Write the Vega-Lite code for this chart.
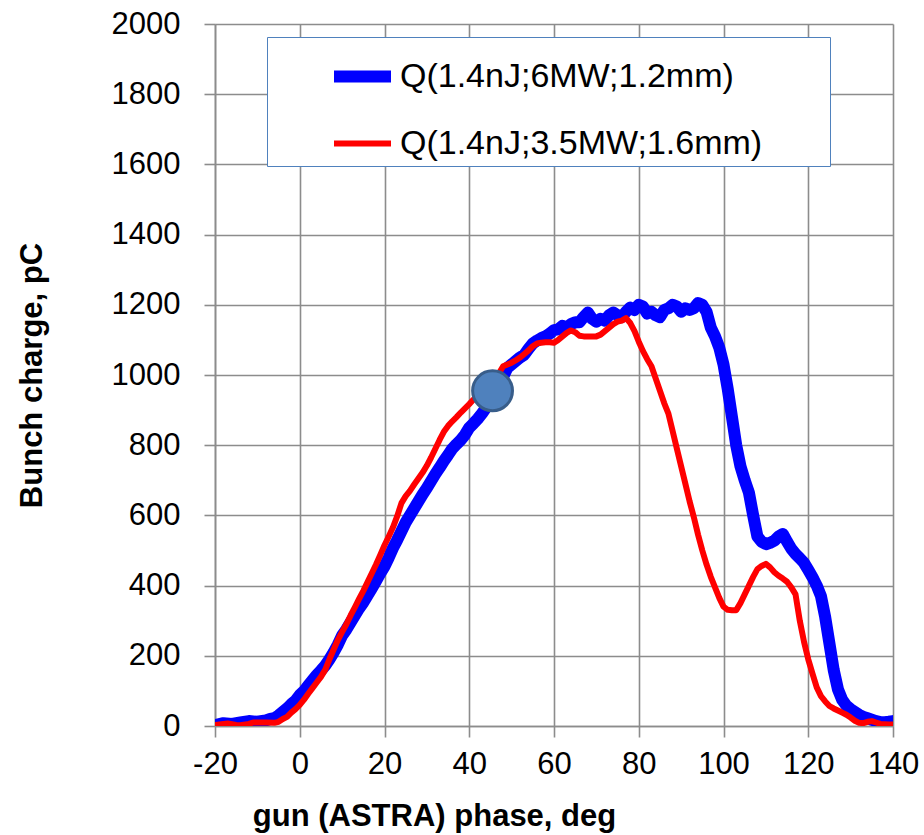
{
  "$schema": "https://vega.github.io/schema/vega-lite/v6.json",
  "autosize": "none",
  "width": 678,
  "height": 702,
  "padding": {"left": 215, "top": 24, "right": 31, "bottom": 109},
  "background": "white",
  "config": {
    "view": {"stroke": null},
    "axis": {
      "gridColor": "#8c8c8c",
      "gridWidth": 1.6,
      "domainColor": "#8c8c8c",
      "domainWidth": 1.6,
      "tickColor": "#8c8c8c",
      "tickWidth": 1.6,
      "tickSize": 11,
      "labelFont": "Liberation Sans",
      "labelFontSize": 31,
      "labelColor": "black",
      "labelFlush": false,
      "labelOverlap": false,
      "labelExpr": "'' + datum.value",
      "titleFont": "Liberation Sans",
      "titleFontSize": 31,
      "titleFontWeight": "bold",
      "titleColor": "black"
    }
  },
  "datasets": {
    "curves": [
      {"phase": -20, "charge": 2, "series": "Q(1.4nJ;6MW;1.2mm)"},
      {"phase": -18, "charge": 8, "series": "Q(1.4nJ;6MW;1.2mm)"},
      {"phase": -16, "charge": 6, "series": "Q(1.4nJ;6MW;1.2mm)"},
      {"phase": -14, "charge": 10, "series": "Q(1.4nJ;6MW;1.2mm)"},
      {"phase": -12, "charge": 14, "series": "Q(1.4nJ;6MW;1.2mm)"},
      {"phase": -10, "charge": 12, "series": "Q(1.4nJ;6MW;1.2mm)"},
      {"phase": -8, "charge": 16, "series": "Q(1.4nJ;6MW;1.2mm)"},
      {"phase": -7, "charge": 20, "series": "Q(1.4nJ;6MW;1.2mm)"},
      {"phase": -6, "charge": 22, "series": "Q(1.4nJ;6MW;1.2mm)"},
      {"phase": -5, "charge": 30, "series": "Q(1.4nJ;6MW;1.2mm)"},
      {"phase": -4, "charge": 40, "series": "Q(1.4nJ;6MW;1.2mm)"},
      {"phase": -3, "charge": 50, "series": "Q(1.4nJ;6MW;1.2mm)"},
      {"phase": -2, "charge": 62, "series": "Q(1.4nJ;6MW;1.2mm)"},
      {"phase": -1, "charge": 72, "series": "Q(1.4nJ;6MW;1.2mm)"},
      {"phase": 0, "charge": 88, "series": "Q(1.4nJ;6MW;1.2mm)"},
      {"phase": 1, "charge": 100, "series": "Q(1.4nJ;6MW;1.2mm)"},
      {"phase": 2, "charge": 115, "series": "Q(1.4nJ;6MW;1.2mm)"},
      {"phase": 3, "charge": 130, "series": "Q(1.4nJ;6MW;1.2mm)"},
      {"phase": 4, "charge": 145, "series": "Q(1.4nJ;6MW;1.2mm)"},
      {"phase": 5, "charge": 158, "series": "Q(1.4nJ;6MW;1.2mm)"},
      {"phase": 6, "charge": 172, "series": "Q(1.4nJ;6MW;1.2mm)"},
      {"phase": 7, "charge": 190, "series": "Q(1.4nJ;6MW;1.2mm)"},
      {"phase": 8, "charge": 210, "series": "Q(1.4nJ;6MW;1.2mm)"},
      {"phase": 9, "charge": 232, "series": "Q(1.4nJ;6MW;1.2mm)"},
      {"phase": 10, "charge": 258, "series": "Q(1.4nJ;6MW;1.2mm)"},
      {"phase": 11, "charge": 275, "series": "Q(1.4nJ;6MW;1.2mm)"},
      {"phase": 12, "charge": 295, "series": "Q(1.4nJ;6MW;1.2mm)"},
      {"phase": 13, "charge": 315, "series": "Q(1.4nJ;6MW;1.2mm)"},
      {"phase": 14, "charge": 335, "series": "Q(1.4nJ;6MW;1.2mm)"},
      {"phase": 15, "charge": 352, "series": "Q(1.4nJ;6MW;1.2mm)"},
      {"phase": 16, "charge": 372, "series": "Q(1.4nJ;6MW;1.2mm)"},
      {"phase": 17, "charge": 392, "series": "Q(1.4nJ;6MW;1.2mm)"},
      {"phase": 18, "charge": 413, "series": "Q(1.4nJ;6MW;1.2mm)"},
      {"phase": 19, "charge": 435, "series": "Q(1.4nJ;6MW;1.2mm)"},
      {"phase": 20, "charge": 455, "series": "Q(1.4nJ;6MW;1.2mm)"},
      {"phase": 21, "charge": 480, "series": "Q(1.4nJ;6MW;1.2mm)"},
      {"phase": 22, "charge": 507, "series": "Q(1.4nJ;6MW;1.2mm)"},
      {"phase": 23, "charge": 530, "series": "Q(1.4nJ;6MW;1.2mm)"},
      {"phase": 24, "charge": 555, "series": "Q(1.4nJ;6MW;1.2mm)"},
      {"phase": 25, "charge": 580, "series": "Q(1.4nJ;6MW;1.2mm)"},
      {"phase": 26, "charge": 600, "series": "Q(1.4nJ;6MW;1.2mm)"},
      {"phase": 27, "charge": 620, "series": "Q(1.4nJ;6MW;1.2mm)"},
      {"phase": 28, "charge": 640, "series": "Q(1.4nJ;6MW;1.2mm)"},
      {"phase": 29, "charge": 660, "series": "Q(1.4nJ;6MW;1.2mm)"},
      {"phase": 30, "charge": 678, "series": "Q(1.4nJ;6MW;1.2mm)"},
      {"phase": 31, "charge": 698, "series": "Q(1.4nJ;6MW;1.2mm)"},
      {"phase": 32, "charge": 718, "series": "Q(1.4nJ;6MW;1.2mm)"},
      {"phase": 33, "charge": 736, "series": "Q(1.4nJ;6MW;1.2mm)"},
      {"phase": 34, "charge": 755, "series": "Q(1.4nJ;6MW;1.2mm)"},
      {"phase": 35, "charge": 772, "series": "Q(1.4nJ;6MW;1.2mm)"},
      {"phase": 36, "charge": 790, "series": "Q(1.4nJ;6MW;1.2mm)"},
      {"phase": 37, "charge": 803, "series": "Q(1.4nJ;6MW;1.2mm)"},
      {"phase": 38, "charge": 815, "series": "Q(1.4nJ;6MW;1.2mm)"},
      {"phase": 39, "charge": 830, "series": "Q(1.4nJ;6MW;1.2mm)"},
      {"phase": 40, "charge": 850, "series": "Q(1.4nJ;6MW;1.2mm)"},
      {"phase": 41, "charge": 862, "series": "Q(1.4nJ;6MW;1.2mm)"},
      {"phase": 42, "charge": 875, "series": "Q(1.4nJ;6MW;1.2mm)"},
      {"phase": 43, "charge": 890, "series": "Q(1.4nJ;6MW;1.2mm)"},
      {"phase": 44, "charge": 908, "series": "Q(1.4nJ;6MW;1.2mm)"},
      {"phase": 45, "charge": 928, "series": "Q(1.4nJ;6MW;1.2mm)"},
      {"phase": 46, "charge": 948, "series": "Q(1.4nJ;6MW;1.2mm)"},
      {"phase": 47, "charge": 970, "series": "Q(1.4nJ;6MW;1.2mm)"},
      {"phase": 48, "charge": 995, "series": "Q(1.4nJ;6MW;1.2mm)"},
      {"phase": 49, "charge": 1020, "series": "Q(1.4nJ;6MW;1.2mm)"},
      {"phase": 50, "charge": 1030, "series": "Q(1.4nJ;6MW;1.2mm)"},
      {"phase": 51, "charge": 1040, "series": "Q(1.4nJ;6MW;1.2mm)"},
      {"phase": 52, "charge": 1050, "series": "Q(1.4nJ;6MW;1.2mm)"},
      {"phase": 53, "charge": 1058, "series": "Q(1.4nJ;6MW;1.2mm)"},
      {"phase": 54, "charge": 1075, "series": "Q(1.4nJ;6MW;1.2mm)"},
      {"phase": 55, "charge": 1090, "series": "Q(1.4nJ;6MW;1.2mm)"},
      {"phase": 56, "charge": 1098, "series": "Q(1.4nJ;6MW;1.2mm)"},
      {"phase": 57, "charge": 1105, "series": "Q(1.4nJ;6MW;1.2mm)"},
      {"phase": 58, "charge": 1110, "series": "Q(1.4nJ;6MW;1.2mm)"},
      {"phase": 59, "charge": 1118, "series": "Q(1.4nJ;6MW;1.2mm)"},
      {"phase": 60, "charge": 1128, "series": "Q(1.4nJ;6MW;1.2mm)"},
      {"phase": 61, "charge": 1130, "series": "Q(1.4nJ;6MW;1.2mm)"},
      {"phase": 62, "charge": 1140, "series": "Q(1.4nJ;6MW;1.2mm)"},
      {"phase": 63, "charge": 1135, "series": "Q(1.4nJ;6MW;1.2mm)"},
      {"phase": 64, "charge": 1145, "series": "Q(1.4nJ;6MW;1.2mm)"},
      {"phase": 65, "charge": 1150, "series": "Q(1.4nJ;6MW;1.2mm)"},
      {"phase": 66, "charge": 1150, "series": "Q(1.4nJ;6MW;1.2mm)"},
      {"phase": 67, "charge": 1165, "series": "Q(1.4nJ;6MW;1.2mm)"},
      {"phase": 68, "charge": 1178, "series": "Q(1.4nJ;6MW;1.2mm)"},
      {"phase": 69, "charge": 1160, "series": "Q(1.4nJ;6MW;1.2mm)"},
      {"phase": 70, "charge": 1152, "series": "Q(1.4nJ;6MW;1.2mm)"},
      {"phase": 71, "charge": 1160, "series": "Q(1.4nJ;6MW;1.2mm)"},
      {"phase": 72, "charge": 1155, "series": "Q(1.4nJ;6MW;1.2mm)"},
      {"phase": 73, "charge": 1170, "series": "Q(1.4nJ;6MW;1.2mm)"},
      {"phase": 74, "charge": 1178, "series": "Q(1.4nJ;6MW;1.2mm)"},
      {"phase": 75, "charge": 1170, "series": "Q(1.4nJ;6MW;1.2mm)"},
      {"phase": 76, "charge": 1165, "series": "Q(1.4nJ;6MW;1.2mm)"},
      {"phase": 77, "charge": 1180, "series": "Q(1.4nJ;6MW;1.2mm)"},
      {"phase": 78, "charge": 1192, "series": "Q(1.4nJ;6MW;1.2mm)"},
      {"phase": 79, "charge": 1185, "series": "Q(1.4nJ;6MW;1.2mm)"},
      {"phase": 80, "charge": 1200, "series": "Q(1.4nJ;6MW;1.2mm)"},
      {"phase": 81, "charge": 1195, "series": "Q(1.4nJ;6MW;1.2mm)"},
      {"phase": 82, "charge": 1175, "series": "Q(1.4nJ;6MW;1.2mm)"},
      {"phase": 83, "charge": 1180, "series": "Q(1.4nJ;6MW;1.2mm)"},
      {"phase": 84, "charge": 1170, "series": "Q(1.4nJ;6MW;1.2mm)"},
      {"phase": 85, "charge": 1165, "series": "Q(1.4nJ;6MW;1.2mm)"},
      {"phase": 86, "charge": 1185, "series": "Q(1.4nJ;6MW;1.2mm)"},
      {"phase": 87, "charge": 1190, "series": "Q(1.4nJ;6MW;1.2mm)"},
      {"phase": 88, "charge": 1200, "series": "Q(1.4nJ;6MW;1.2mm)"},
      {"phase": 89, "charge": 1195, "series": "Q(1.4nJ;6MW;1.2mm)"},
      {"phase": 90, "charge": 1180, "series": "Q(1.4nJ;6MW;1.2mm)"},
      {"phase": 91, "charge": 1190, "series": "Q(1.4nJ;6MW;1.2mm)"},
      {"phase": 92, "charge": 1185, "series": "Q(1.4nJ;6MW;1.2mm)"},
      {"phase": 93, "charge": 1190, "series": "Q(1.4nJ;6MW;1.2mm)"},
      {"phase": 94, "charge": 1205, "series": "Q(1.4nJ;6MW;1.2mm)"},
      {"phase": 95, "charge": 1200, "series": "Q(1.4nJ;6MW;1.2mm)"},
      {"phase": 96, "charge": 1180, "series": "Q(1.4nJ;6MW;1.2mm)"},
      {"phase": 97, "charge": 1135, "series": "Q(1.4nJ;6MW;1.2mm)"},
      {"phase": 98, "charge": 1110, "series": "Q(1.4nJ;6MW;1.2mm)"},
      {"phase": 99, "charge": 1078, "series": "Q(1.4nJ;6MW;1.2mm)"},
      {"phase": 100, "charge": 1030, "series": "Q(1.4nJ;6MW;1.2mm)"},
      {"phase": 101, "charge": 960, "series": "Q(1.4nJ;6MW;1.2mm)"},
      {"phase": 102, "charge": 880, "series": "Q(1.4nJ;6MW;1.2mm)"},
      {"phase": 103, "charge": 800, "series": "Q(1.4nJ;6MW;1.2mm)"},
      {"phase": 104, "charge": 740, "series": "Q(1.4nJ;6MW;1.2mm)"},
      {"phase": 105, "charge": 700, "series": "Q(1.4nJ;6MW;1.2mm)"},
      {"phase": 106, "charge": 665, "series": "Q(1.4nJ;6MW;1.2mm)"},
      {"phase": 107, "charge": 600, "series": "Q(1.4nJ;6MW;1.2mm)"},
      {"phase": 108, "charge": 540, "series": "Q(1.4nJ;6MW;1.2mm)"},
      {"phase": 109, "charge": 525, "series": "Q(1.4nJ;6MW;1.2mm)"},
      {"phase": 110, "charge": 518, "series": "Q(1.4nJ;6MW;1.2mm)"},
      {"phase": 111, "charge": 522, "series": "Q(1.4nJ;6MW;1.2mm)"},
      {"phase": 112, "charge": 528, "series": "Q(1.4nJ;6MW;1.2mm)"},
      {"phase": 113, "charge": 540, "series": "Q(1.4nJ;6MW;1.2mm)"},
      {"phase": 114, "charge": 547, "series": "Q(1.4nJ;6MW;1.2mm)"},
      {"phase": 115, "charge": 525, "series": "Q(1.4nJ;6MW;1.2mm)"},
      {"phase": 116, "charge": 505, "series": "Q(1.4nJ;6MW;1.2mm)"},
      {"phase": 117, "charge": 490, "series": "Q(1.4nJ;6MW;1.2mm)"},
      {"phase": 118, "charge": 478, "series": "Q(1.4nJ;6MW;1.2mm)"},
      {"phase": 119, "charge": 465, "series": "Q(1.4nJ;6MW;1.2mm)"},
      {"phase": 120, "charge": 445, "series": "Q(1.4nJ;6MW;1.2mm)"},
      {"phase": 121, "charge": 424, "series": "Q(1.4nJ;6MW;1.2mm)"},
      {"phase": 122, "charge": 400, "series": "Q(1.4nJ;6MW;1.2mm)"},
      {"phase": 123, "charge": 370, "series": "Q(1.4nJ;6MW;1.2mm)"},
      {"phase": 124, "charge": 310, "series": "Q(1.4nJ;6MW;1.2mm)"},
      {"phase": 125, "charge": 235, "series": "Q(1.4nJ;6MW;1.2mm)"},
      {"phase": 126, "charge": 160, "series": "Q(1.4nJ;6MW;1.2mm)"},
      {"phase": 127, "charge": 105, "series": "Q(1.4nJ;6MW;1.2mm)"},
      {"phase": 128, "charge": 75, "series": "Q(1.4nJ;6MW;1.2mm)"},
      {"phase": 129, "charge": 58, "series": "Q(1.4nJ;6MW;1.2mm)"},
      {"phase": 130, "charge": 48, "series": "Q(1.4nJ;6MW;1.2mm)"},
      {"phase": 131, "charge": 40, "series": "Q(1.4nJ;6MW;1.2mm)"},
      {"phase": 132, "charge": 32, "series": "Q(1.4nJ;6MW;1.2mm)"},
      {"phase": 133, "charge": 26, "series": "Q(1.4nJ;6MW;1.2mm)"},
      {"phase": 134, "charge": 22, "series": "Q(1.4nJ;6MW;1.2mm)"},
      {"phase": 135, "charge": 18, "series": "Q(1.4nJ;6MW;1.2mm)"},
      {"phase": 136, "charge": 14, "series": "Q(1.4nJ;6MW;1.2mm)"},
      {"phase": 137, "charge": 11, "series": "Q(1.4nJ;6MW;1.2mm)"},
      {"phase": 138, "charge": 11, "series": "Q(1.4nJ;6MW;1.2mm)"},
      {"phase": 139, "charge": 12, "series": "Q(1.4nJ;6MW;1.2mm)"},
      {"phase": 140, "charge": 14, "series": "Q(1.4nJ;6MW;1.2mm)"},

      {"phase": -20, "charge": 3, "series": "Q(1.4nJ;3.5MW;1.6mm)"},
      {"phase": -18, "charge": 6, "series": "Q(1.4nJ;3.5MW;1.6mm)"},
      {"phase": -17, "charge": 7, "series": "Q(1.4nJ;3.5MW;1.6mm)"},
      {"phase": -15, "charge": 3, "series": "Q(1.4nJ;3.5MW;1.6mm)"},
      {"phase": -14, "charge": 2, "series": "Q(1.4nJ;3.5MW;1.6mm)"},
      {"phase": -12, "charge": 6, "series": "Q(1.4nJ;3.5MW;1.6mm)"},
      {"phase": -11, "charge": 10, "series": "Q(1.4nJ;3.5MW;1.6mm)"},
      {"phase": -8, "charge": 10, "series": "Q(1.4nJ;3.5MW;1.6mm)"},
      {"phase": -6, "charge": 9, "series": "Q(1.4nJ;3.5MW;1.6mm)"},
      {"phase": -5, "charge": 12, "series": "Q(1.4nJ;3.5MW;1.6mm)"},
      {"phase": -4, "charge": 20, "series": "Q(1.4nJ;3.5MW;1.6mm)"},
      {"phase": -3, "charge": 26, "series": "Q(1.4nJ;3.5MW;1.6mm)"},
      {"phase": -2, "charge": 38, "series": "Q(1.4nJ;3.5MW;1.6mm)"},
      {"phase": -1, "charge": 48, "series": "Q(1.4nJ;3.5MW;1.6mm)"},
      {"phase": 0, "charge": 60, "series": "Q(1.4nJ;3.5MW;1.6mm)"},
      {"phase": 1, "charge": 75, "series": "Q(1.4nJ;3.5MW;1.6mm)"},
      {"phase": 2, "charge": 92, "series": "Q(1.4nJ;3.5MW;1.6mm)"},
      {"phase": 3, "charge": 108, "series": "Q(1.4nJ;3.5MW;1.6mm)"},
      {"phase": 4, "charge": 124, "series": "Q(1.4nJ;3.5MW;1.6mm)"},
      {"phase": 5, "charge": 140, "series": "Q(1.4nJ;3.5MW;1.6mm)"},
      {"phase": 6, "charge": 160, "series": "Q(1.4nJ;3.5MW;1.6mm)"},
      {"phase": 7, "charge": 190, "series": "Q(1.4nJ;3.5MW;1.6mm)"},
      {"phase": 8, "charge": 218, "series": "Q(1.4nJ;3.5MW;1.6mm)"},
      {"phase": 9, "charge": 245, "series": "Q(1.4nJ;3.5MW;1.6mm)"},
      {"phase": 10, "charge": 268, "series": "Q(1.4nJ;3.5MW;1.6mm)"},
      {"phase": 11, "charge": 290, "series": "Q(1.4nJ;3.5MW;1.6mm)"},
      {"phase": 12, "charge": 315, "series": "Q(1.4nJ;3.5MW;1.6mm)"},
      {"phase": 13, "charge": 338, "series": "Q(1.4nJ;3.5MW;1.6mm)"},
      {"phase": 14, "charge": 362, "series": "Q(1.4nJ;3.5MW;1.6mm)"},
      {"phase": 15, "charge": 385, "series": "Q(1.4nJ;3.5MW;1.6mm)"},
      {"phase": 16, "charge": 410, "series": "Q(1.4nJ;3.5MW;1.6mm)"},
      {"phase": 17, "charge": 435, "series": "Q(1.4nJ;3.5MW;1.6mm)"},
      {"phase": 18, "charge": 460, "series": "Q(1.4nJ;3.5MW;1.6mm)"},
      {"phase": 19, "charge": 487, "series": "Q(1.4nJ;3.5MW;1.6mm)"},
      {"phase": 20, "charge": 515, "series": "Q(1.4nJ;3.5MW;1.6mm)"},
      {"phase": 21, "charge": 540, "series": "Q(1.4nJ;3.5MW;1.6mm)"},
      {"phase": 22, "charge": 566, "series": "Q(1.4nJ;3.5MW;1.6mm)"},
      {"phase": 23, "charge": 598, "series": "Q(1.4nJ;3.5MW;1.6mm)"},
      {"phase": 24, "charge": 635, "series": "Q(1.4nJ;3.5MW;1.6mm)"},
      {"phase": 25, "charge": 655, "series": "Q(1.4nJ;3.5MW;1.6mm)"},
      {"phase": 26, "charge": 670, "series": "Q(1.4nJ;3.5MW;1.6mm)"},
      {"phase": 27, "charge": 688, "series": "Q(1.4nJ;3.5MW;1.6mm)"},
      {"phase": 28, "charge": 705, "series": "Q(1.4nJ;3.5MW;1.6mm)"},
      {"phase": 29, "charge": 722, "series": "Q(1.4nJ;3.5MW;1.6mm)"},
      {"phase": 30, "charge": 742, "series": "Q(1.4nJ;3.5MW;1.6mm)"},
      {"phase": 31, "charge": 765, "series": "Q(1.4nJ;3.5MW;1.6mm)"},
      {"phase": 32, "charge": 790, "series": "Q(1.4nJ;3.5MW;1.6mm)"},
      {"phase": 33, "charge": 815, "series": "Q(1.4nJ;3.5MW;1.6mm)"},
      {"phase": 34, "charge": 838, "series": "Q(1.4nJ;3.5MW;1.6mm)"},
      {"phase": 35, "charge": 855, "series": "Q(1.4nJ;3.5MW;1.6mm)"},
      {"phase": 36, "charge": 868, "series": "Q(1.4nJ;3.5MW;1.6mm)"},
      {"phase": 37, "charge": 880, "series": "Q(1.4nJ;3.5MW;1.6mm)"},
      {"phase": 38, "charge": 893, "series": "Q(1.4nJ;3.5MW;1.6mm)"},
      {"phase": 39, "charge": 905, "series": "Q(1.4nJ;3.5MW;1.6mm)"},
      {"phase": 40, "charge": 917, "series": "Q(1.4nJ;3.5MW;1.6mm)"},
      {"phase": 41, "charge": 930, "series": "Q(1.4nJ;3.5MW;1.6mm)"},
      {"phase": 42, "charge": 942, "series": "Q(1.4nJ;3.5MW;1.6mm)"},
      {"phase": 43, "charge": 955, "series": "Q(1.4nJ;3.5MW;1.6mm)"},
      {"phase": 44, "charge": 965, "series": "Q(1.4nJ;3.5MW;1.6mm)"},
      {"phase": 45, "charge": 978, "series": "Q(1.4nJ;3.5MW;1.6mm)"},
      {"phase": 46, "charge": 990, "series": "Q(1.4nJ;3.5MW;1.6mm)"},
      {"phase": 47, "charge": 1005, "series": "Q(1.4nJ;3.5MW;1.6mm)"},
      {"phase": 48, "charge": 1025, "series": "Q(1.4nJ;3.5MW;1.6mm)"},
      {"phase": 49, "charge": 1030, "series": "Q(1.4nJ;3.5MW;1.6mm)"},
      {"phase": 50, "charge": 1035, "series": "Q(1.4nJ;3.5MW;1.6mm)"},
      {"phase": 51, "charge": 1042, "series": "Q(1.4nJ;3.5MW;1.6mm)"},
      {"phase": 52, "charge": 1050, "series": "Q(1.4nJ;3.5MW;1.6mm)"},
      {"phase": 53, "charge": 1060, "series": "Q(1.4nJ;3.5MW;1.6mm)"},
      {"phase": 54, "charge": 1070, "series": "Q(1.4nJ;3.5MW;1.6mm)"},
      {"phase": 55, "charge": 1082, "series": "Q(1.4nJ;3.5MW;1.6mm)"},
      {"phase": 56, "charge": 1090, "series": "Q(1.4nJ;3.5MW;1.6mm)"},
      {"phase": 57, "charge": 1092, "series": "Q(1.4nJ;3.5MW;1.6mm)"},
      {"phase": 58, "charge": 1093, "series": "Q(1.4nJ;3.5MW;1.6mm)"},
      {"phase": 59, "charge": 1093, "series": "Q(1.4nJ;3.5MW;1.6mm)"},
      {"phase": 60, "charge": 1092, "series": "Q(1.4nJ;3.5MW;1.6mm)"},
      {"phase": 61, "charge": 1100, "series": "Q(1.4nJ;3.5MW;1.6mm)"},
      {"phase": 62, "charge": 1110, "series": "Q(1.4nJ;3.5MW;1.6mm)"},
      {"phase": 63, "charge": 1120, "series": "Q(1.4nJ;3.5MW;1.6mm)"},
      {"phase": 64, "charge": 1127, "series": "Q(1.4nJ;3.5MW;1.6mm)"},
      {"phase": 65, "charge": 1122, "series": "Q(1.4nJ;3.5MW;1.6mm)"},
      {"phase": 66, "charge": 1112, "series": "Q(1.4nJ;3.5MW;1.6mm)"},
      {"phase": 67, "charge": 1110, "series": "Q(1.4nJ;3.5MW;1.6mm)"},
      {"phase": 68, "charge": 1110, "series": "Q(1.4nJ;3.5MW;1.6mm)"},
      {"phase": 69, "charge": 1110, "series": "Q(1.4nJ;3.5MW;1.6mm)"},
      {"phase": 70, "charge": 1110, "series": "Q(1.4nJ;3.5MW;1.6mm)"},
      {"phase": 71, "charge": 1115, "series": "Q(1.4nJ;3.5MW;1.6mm)"},
      {"phase": 72, "charge": 1125, "series": "Q(1.4nJ;3.5MW;1.6mm)"},
      {"phase": 73, "charge": 1135, "series": "Q(1.4nJ;3.5MW;1.6mm)"},
      {"phase": 74, "charge": 1145, "series": "Q(1.4nJ;3.5MW;1.6mm)"},
      {"phase": 75, "charge": 1152, "series": "Q(1.4nJ;3.5MW;1.6mm)"},
      {"phase": 76, "charge": 1155, "series": "Q(1.4nJ;3.5MW;1.6mm)"},
      {"phase": 77, "charge": 1162, "series": "Q(1.4nJ;3.5MW;1.6mm)"},
      {"phase": 78, "charge": 1148, "series": "Q(1.4nJ;3.5MW;1.6mm)"},
      {"phase": 79, "charge": 1125, "series": "Q(1.4nJ;3.5MW;1.6mm)"},
      {"phase": 80, "charge": 1095, "series": "Q(1.4nJ;3.5MW;1.6mm)"},
      {"phase": 81, "charge": 1068, "series": "Q(1.4nJ;3.5MW;1.6mm)"},
      {"phase": 82, "charge": 1045, "series": "Q(1.4nJ;3.5MW;1.6mm)"},
      {"phase": 83, "charge": 1025, "series": "Q(1.4nJ;3.5MW;1.6mm)"},
      {"phase": 84, "charge": 990, "series": "Q(1.4nJ;3.5MW;1.6mm)"},
      {"phase": 85, "charge": 955, "series": "Q(1.4nJ;3.5MW;1.6mm)"},
      {"phase": 86, "charge": 920, "series": "Q(1.4nJ;3.5MW;1.6mm)"},
      {"phase": 87, "charge": 890, "series": "Q(1.4nJ;3.5MW;1.6mm)"},
      {"phase": 88, "charge": 840, "series": "Q(1.4nJ;3.5MW;1.6mm)"},
      {"phase": 89, "charge": 790, "series": "Q(1.4nJ;3.5MW;1.6mm)"},
      {"phase": 90, "charge": 740, "series": "Q(1.4nJ;3.5MW;1.6mm)"},
      {"phase": 91, "charge": 690, "series": "Q(1.4nJ;3.5MW;1.6mm)"},
      {"phase": 92, "charge": 640, "series": "Q(1.4nJ;3.5MW;1.6mm)"},
      {"phase": 93, "charge": 595, "series": "Q(1.4nJ;3.5MW;1.6mm)"},
      {"phase": 94, "charge": 545, "series": "Q(1.4nJ;3.5MW;1.6mm)"},
      {"phase": 95, "charge": 500, "series": "Q(1.4nJ;3.5MW;1.6mm)"},
      {"phase": 96, "charge": 460, "series": "Q(1.4nJ;3.5MW;1.6mm)"},
      {"phase": 97, "charge": 425, "series": "Q(1.4nJ;3.5MW;1.6mm)"},
      {"phase": 98, "charge": 395, "series": "Q(1.4nJ;3.5MW;1.6mm)"},
      {"phase": 99, "charge": 365, "series": "Q(1.4nJ;3.5MW;1.6mm)"},
      {"phase": 100, "charge": 340, "series": "Q(1.4nJ;3.5MW;1.6mm)"},
      {"phase": 101, "charge": 331, "series": "Q(1.4nJ;3.5MW;1.6mm)"},
      {"phase": 102, "charge": 330, "series": "Q(1.4nJ;3.5MW;1.6mm)"},
      {"phase": 103, "charge": 330, "series": "Q(1.4nJ;3.5MW;1.6mm)"},
      {"phase": 104, "charge": 350, "series": "Q(1.4nJ;3.5MW;1.6mm)"},
      {"phase": 105, "charge": 375, "series": "Q(1.4nJ;3.5MW;1.6mm)"},
      {"phase": 106, "charge": 400, "series": "Q(1.4nJ;3.5MW;1.6mm)"},
      {"phase": 107, "charge": 425, "series": "Q(1.4nJ;3.5MW;1.6mm)"},
      {"phase": 108, "charge": 447, "series": "Q(1.4nJ;3.5MW;1.6mm)"},
      {"phase": 109, "charge": 456, "series": "Q(1.4nJ;3.5MW;1.6mm)"},
      {"phase": 110, "charge": 462, "series": "Q(1.4nJ;3.5MW;1.6mm)"},
      {"phase": 111, "charge": 452, "series": "Q(1.4nJ;3.5MW;1.6mm)"},
      {"phase": 112, "charge": 438, "series": "Q(1.4nJ;3.5MW;1.6mm)"},
      {"phase": 113, "charge": 428, "series": "Q(1.4nJ;3.5MW;1.6mm)"},
      {"phase": 114, "charge": 420, "series": "Q(1.4nJ;3.5MW;1.6mm)"},
      {"phase": 115, "charge": 411, "series": "Q(1.4nJ;3.5MW;1.6mm)"},
      {"phase": 116, "charge": 395, "series": "Q(1.4nJ;3.5MW;1.6mm)"},
      {"phase": 117, "charge": 375, "series": "Q(1.4nJ;3.5MW;1.6mm)"},
      {"phase": 118, "charge": 300, "series": "Q(1.4nJ;3.5MW;1.6mm)"},
      {"phase": 119, "charge": 240, "series": "Q(1.4nJ;3.5MW;1.6mm)"},
      {"phase": 120, "charge": 190, "series": "Q(1.4nJ;3.5MW;1.6mm)"},
      {"phase": 121, "charge": 149, "series": "Q(1.4nJ;3.5MW;1.6mm)"},
      {"phase": 122, "charge": 110, "series": "Q(1.4nJ;3.5MW;1.6mm)"},
      {"phase": 123, "charge": 85, "series": "Q(1.4nJ;3.5MW;1.6mm)"},
      {"phase": 124, "charge": 70, "series": "Q(1.4nJ;3.5MW;1.6mm)"},
      {"phase": 125, "charge": 57, "series": "Q(1.4nJ;3.5MW;1.6mm)"},
      {"phase": 126, "charge": 50, "series": "Q(1.4nJ;3.5MW;1.6mm)"},
      {"phase": 127, "charge": 44, "series": "Q(1.4nJ;3.5MW;1.6mm)"},
      {"phase": 128, "charge": 38, "series": "Q(1.4nJ;3.5MW;1.6mm)"},
      {"phase": 129, "charge": 32, "series": "Q(1.4nJ;3.5MW;1.6mm)"},
      {"phase": 130, "charge": 24, "series": "Q(1.4nJ;3.5MW;1.6mm)"},
      {"phase": 131, "charge": 15, "series": "Q(1.4nJ;3.5MW;1.6mm)"},
      {"phase": 132, "charge": 9, "series": "Q(1.4nJ;3.5MW;1.6mm)"},
      {"phase": 133, "charge": 8, "series": "Q(1.4nJ;3.5MW;1.6mm)"},
      {"phase": 134, "charge": 12, "series": "Q(1.4nJ;3.5MW;1.6mm)"},
      {"phase": 135, "charge": 14, "series": "Q(1.4nJ;3.5MW;1.6mm)"},
      {"phase": 136, "charge": 10, "series": "Q(1.4nJ;3.5MW;1.6mm)"},
      {"phase": 137, "charge": 6, "series": "Q(1.4nJ;3.5MW;1.6mm)"},
      {"phase": 138, "charge": 5, "series": "Q(1.4nJ;3.5MW;1.6mm)"},
      {"phase": 139, "charge": 4, "series": "Q(1.4nJ;3.5MW;1.6mm)"},
      {"phase": 140, "charge": 4, "series": "Q(1.4nJ;3.5MW;1.6mm)"}
    ],
    "marker": [
      {"phase": 45.5, "charge": 955}
    ]
  },
  "layer": [
    {
      "data": {"name": "curves"},
      "transform": [{"filter": "datum.series === 'Q(1.4nJ;6MW;1.2mm)'"}],
      "mark": {"type": "line", "strokeJoin": "round", "strokeCap": "round", "clip": true},
      "encoding": {
        "x": {
          "field": "phase", "type": "quantitative",
          "scale": {"domain": [-20, 140], "nice": false, "zero": false},
          "axis": {
            "values": [-20, 0, 20, 40, 60, 80, 100, 120, 140],
            "title": "gun (ASTRA) phase, deg",
            "labelPadding": 12,
            "titleX": 219,
            "titleY": 90,
            "titleAlign": "center",
            "titleBaseline": "middle"
          }
        },
        "y": {
          "field": "charge", "type": "quantitative",
          "scale": {"domain": [0, 2000], "nice": false},
          "axis": {
            "values": [0, 200, 400, 600, 800, 1000, 1200, 1400, 1600, 1800, 2000],
            "title": "Bunch charge, pC",
            "labelPadding": 24,
            "titleX": -183,
            "titleY": 351,
            "titleAngle": -90,
            "titleAlign": "center",
            "titleBaseline": "middle"
          }
        },
        "color": {
          "field": "series", "type": "nominal",
          "scale": {"domain": ["Q(1.4nJ;6MW;1.2mm)", "Q(1.4nJ;3.5MW;1.6mm)"], "range": ["#0000ff", "#ff0000"]},
          "legend": {
            "orient": "none",
            "legendX": 52,
            "legendY": 13,
            "title": " ",
            "titleOrient": "right",
            "titlePadding": 63,
            "titleFontSize": 10,
            "padding": 5,
            "fillColor": "white",
            "strokeColor": "#4f81bd",
            "symbolType": "stroke",
            "symbolSize": 3249,
            "symbolOffset": 56,
            "labelOffset": 3,
            "labelFont": "Liberation Sans",
            "labelFontSize": 34,
            "labelColor": "black",
            "labelLimit": 500,
            "rowPadding": 11
          }
        },
        "strokeWidth": {
          "field": "series", "type": "nominal",
          "scale": {"domain": ["Q(1.4nJ;6MW;1.2mm)", "Q(1.4nJ;3.5MW;1.6mm)"], "range": [12, 6]}
        }
      }
    },
    {
      "data": {"name": "curves"},
      "transform": [{"filter": "datum.series === 'Q(1.4nJ;3.5MW;1.6mm)'"}],
      "mark": {"type": "line", "strokeJoin": "round", "strokeCap": "round", "clip": true},
      "encoding": {
        "x": {"field": "phase", "type": "quantitative"},
        "y": {"field": "charge", "type": "quantitative"},
        "color": {"field": "series", "type": "nominal"},
        "strokeWidth": {"field": "series", "type": "nominal"}
      }
    },
    {
      "data": {"name": "marker"},
      "mark": {"type": "point", "shape": "circle", "filled": true, "size": 1590, "fill": "#4f81bd", "stroke": "#385d8a", "strokeWidth": 3, "opacity": 1},
      "encoding": {
        "x": {"field": "phase", "type": "quantitative"},
        "y": {"field": "charge", "type": "quantitative"}
      }
    }
  ]
}
